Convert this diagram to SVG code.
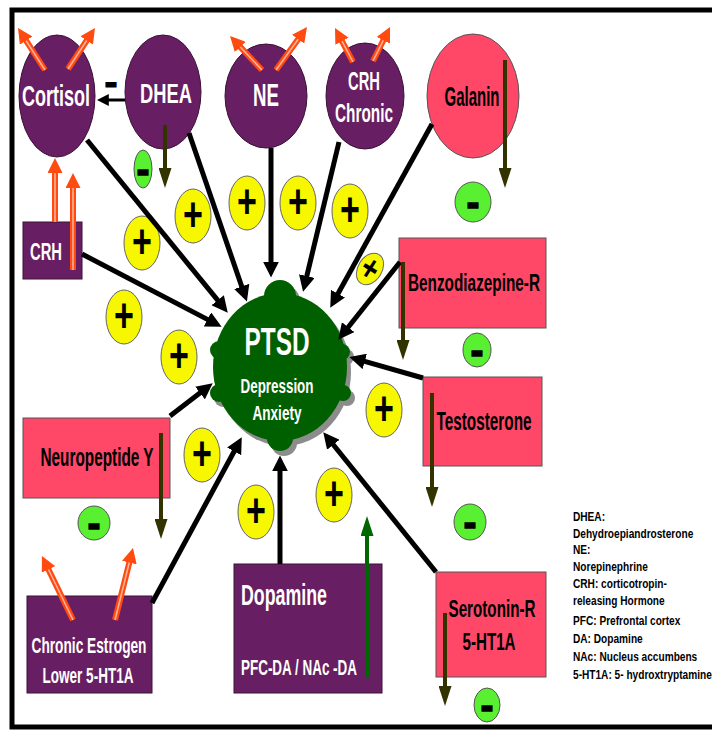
<svg xmlns="http://www.w3.org/2000/svg" width="712" height="730" viewBox="0 0 712 730">
<style>
.w{fill:#fff;font-family:"Liberation Sans Narrow","Liberation Sans",Arial,sans-serif;font-weight:bold;text-anchor:middle}
.k{fill:#000;font-family:"Liberation Sans Narrow","Liberation Sans",Arial,sans-serif;font-weight:bold;text-anchor:middle}
.pur{fill:#681E62;stroke:#3a1236;stroke-width:1}
.pink{fill:#FF4868;stroke:#555;stroke-width:1}
.yel{fill:#F7F700;stroke:#666;stroke-width:1}
.grn{fill:#5AF032;stroke:#555;stroke-width:1}
.plus{font-family:"Liberation Sans",Arial,sans-serif;font-weight:bold;font-size:34px;text-anchor:middle;fill:#000}
.minus{font-family:"Liberation Sans",Arial,sans-serif;font-weight:bold;font-size:26px;text-anchor:middle;fill:#000;stroke:#000;stroke-width:0.8}
.blk{stroke:#000;stroke-width:5;fill:none;marker-end:url(#ah)}
.olv{stroke:#333300;stroke-width:4;fill:none;marker-end:url(#oh)}
.org{stroke:#FF4A10;stroke-width:6;fill:none;marker-end:url(#rh)}
.orgi{stroke:#FFB09A;stroke-width:1.6;fill:none}
.leg{font-family:"Liberation Sans Narrow","Liberation Sans",Arial,sans-serif;font-size:13.5px;font-weight:bold;fill:#000}
</style>
<defs>
<marker id="ah" viewBox="0 0 10 10" refX="4" refY="5" markerWidth="16" markerHeight="16" markerUnits="userSpaceOnUse" orient="auto"><path d="M0,0L10,5L0,10z" fill="#000"/></marker>
<marker id="ahs" viewBox="0 0 10 10" refX="4" refY="5" markerWidth="12" markerHeight="12" markerUnits="userSpaceOnUse" orient="auto"><path d="M0,0L10,5L0,10z" fill="#000"/></marker>
<marker id="oh" viewBox="0 0 20 13" refX="6" refY="6.5" markerWidth="20" markerHeight="13" markerUnits="userSpaceOnUse" orient="auto"><path d="M0,0L20,6.5L0,13z" fill="#333300"/></marker>
<marker id="gh" viewBox="0 0 20 13" refX="6" refY="6.5" markerWidth="20" markerHeight="13" markerUnits="userSpaceOnUse" orient="auto"><path d="M0,0L20,6.5L0,13z" fill="#006600"/></marker>
<marker id="rh" viewBox="0 0 10 10" refX="4" refY="5" markerWidth="15" markerHeight="15" markerUnits="userSpaceOnUse" orient="auto"><path d="M0,0L10,5L0,10z" fill="#FF4A10"/></marker>
</defs>

<rect x="0" y="0" width="712" height="730" fill="#fff"/>
<path id="frame" d="M712,10H12V727H712" fill="none" stroke="#000" stroke-width="5"/>

<g id="ptsd">
<g fill="#8C8C8C" transform="translate(4,5)">
<ellipse cx="280" cy="367" rx="67" ry="74"/><circle cx="280" cy="296" r="16"/><circle cx="280" cy="438" r="13"/>
<circle cx="219" cy="350" r="9"/><circle cx="219" cy="393" r="9"/><circle cx="342" cy="352" r="8"/><circle cx="343" cy="393" r="8"/>
</g>
<g fill="#006000">
<ellipse cx="280" cy="367" rx="67" ry="74"/><circle cx="280" cy="296" r="16"/><circle cx="280" cy="438" r="13"/>
<circle cx="219" cy="350" r="9"/><circle cx="219" cy="393" r="9"/><circle cx="342" cy="352" r="8"/><circle cx="343" cy="393" r="8"/>
</g>
<text class="w" x="277" y="355" font-size="39" textLength="65" lengthAdjust="spacingAndGlyphs">PTSD</text>
<text class="w" x="277" y="393" font-size="20" textLength="73" lengthAdjust="spacingAndGlyphs">Depression</text>
<text class="w" x="277" y="420" font-size="20" textLength="49" lengthAdjust="spacingAndGlyphs">Anxiety</text>
</g>

<g id="cortisol"><ellipse class="pur" cx="57" cy="96" rx="38" ry="61"/>
<text class="w" x="56" y="106" font-size="29" textLength="68" lengthAdjust="spacingAndGlyphs">Cortisol</text></g>
<g id="dhea"><ellipse class="pur" cx="163" cy="92" rx="38" ry="57"/>
<text class="w" x="166" y="103" font-size="28" textLength="52" lengthAdjust="spacingAndGlyphs">DHEA</text></g>
<g id="ne"><ellipse class="pur" cx="266" cy="96" rx="41" ry="52"/>
<text class="w" x="266" y="106" font-size="31" textLength="26" lengthAdjust="spacingAndGlyphs">NE</text></g>
<g id="crh-chronic"><ellipse class="pur" cx="365" cy="96" rx="39" ry="53"/>
<text class="w" x="364" y="90" font-size="25" textLength="32" lengthAdjust="spacingAndGlyphs">CRH</text>
<text class="w" x="364" y="122" font-size="25" textLength="58" lengthAdjust="spacingAndGlyphs">Chronic</text></g>
<g id="galanin"><ellipse class="pink" cx="473" cy="96" rx="46" ry="62"/>
<text class="k" x="472" y="106" font-size="27" textLength="55" lengthAdjust="spacingAndGlyphs">Galanin</text></g>
<g id="crh"><rect class="pur" x="23" y="222" width="59" height="57"/>
<text class="w" x="46" y="260" font-size="24" textLength="32" lengthAdjust="spacingAndGlyphs">CRH</text></g>
<g id="benzodiazepine"><rect class="pink" x="399" y="238" width="147" height="90"/>
<text class="k" x="474" y="291" font-size="23" textLength="132" lengthAdjust="spacingAndGlyphs">Benzodiazepine-R</text></g>
<g id="testosterone"><rect class="pink" x="423" y="377" width="119" height="89"/>
<text class="k" x="484" y="430" font-size="25" textLength="95" lengthAdjust="spacingAndGlyphs">Testosterone</text></g>
<g id="neuropeptide"><rect class="pink" x="23" y="418" width="147" height="80"/>
<text class="k" x="97" y="466" font-size="25" textLength="113" lengthAdjust="spacingAndGlyphs">Neuropeptide Y</text></g>
<g id="serotonin"><rect class="pink" x="436" y="572" width="110" height="105"/>
<text class="k" x="492" y="617" font-size="24" textLength="87" lengthAdjust="spacingAndGlyphs">Serotonin-R</text>
<text class="k" x="489" y="650" font-size="24" textLength="53" lengthAdjust="spacingAndGlyphs">5-HT1A</text></g>
<g id="estrogen"><rect class="pur" x="27" y="596" width="125" height="97"/>
<text class="w" x="89" y="653" font-size="22" textLength="115" lengthAdjust="spacingAndGlyphs">Chronic Estrogen</text>
<text class="w" x="88" y="683" font-size="22" textLength="91" lengthAdjust="spacingAndGlyphs">Lower 5-HT1A</text></g>
<g id="dopamine"><rect class="pur" x="234" y="564" width="148" height="129"/>
<text class="w" x="241" y="605" font-size="30" textLength="86" lengthAdjust="spacingAndGlyphs" style="text-anchor:start">Dopamine</text>
<text class="w" x="241" y="675" font-size="22" textLength="116" lengthAdjust="spacingAndGlyphs" style="text-anchor:start">PFC-DA / NAc -DA</text></g>

<g id="plus-signs">
<g transform="translate(142,243)"><ellipse class="yel" rx="18" ry="27"/><text class="plus" transform="scale(1,1.4)" y="11">+</text></g>
<g transform="translate(193,216)"><ellipse class="yel" rx="18" ry="27"/><text class="plus" transform="scale(1,1.4)" y="11">+</text></g>
<g transform="translate(247,203)"><ellipse class="yel" rx="18" ry="27"/><text class="plus" transform="scale(1,1.4)" y="11">+</text></g>
<g transform="translate(298,203)"><ellipse class="yel" rx="18" ry="27"/><text class="plus" transform="scale(1,1.4)" y="11">+</text></g>
<g transform="translate(350,211)"><ellipse class="yel" rx="18" ry="27"/><text class="plus" transform="scale(1,1.4)" y="11">+</text></g>
<g transform="translate(124,317)"><ellipse class="yel" rx="18" ry="27"/><text class="plus" transform="scale(1,1.4)" y="11">+</text></g>
<g transform="translate(179,357)"><ellipse class="yel" rx="18" ry="27"/><text class="plus" transform="scale(1,1.4)" y="11">+</text></g>
<g transform="translate(202,455)"><ellipse class="yel" rx="18" ry="27"/><text class="plus" transform="scale(1,1.4)" y="11">+</text></g>
<g transform="translate(256,512)"><ellipse class="yel" rx="18" ry="27"/><text class="plus" transform="scale(1,1.4)" y="11">+</text></g>
<g transform="translate(334,495)"><ellipse class="yel" rx="18" ry="27"/><text class="plus" transform="scale(1,1.4)" y="11">+</text></g>
<g transform="translate(384,410)"><ellipse class="yel" rx="18" ry="27"/><text class="plus" transform="scale(1,1.4)" y="11">+</text></g>
<g transform="translate(370,269) rotate(32)"><ellipse class="yel" rx="12" ry="17"/><text class="plus" style="font-size:28px" transform="scale(1,1.3)" y="9">+</text></g>
</g>

<g id="minus-signs">
<g transform="translate(143,169)"><ellipse class="grn" rx="9" ry="19"/><text class="minus" transform="translate(0,4) scale(1.5,1.6)" y="7">-</text></g>
<g transform="translate(473,202)"><ellipse class="grn" rx="18" ry="20"/><text class="minus" transform="translate(0,4) scale(1.5,1.6)" y="7">-</text></g>
<g transform="translate(477,350)"><ellipse class="grn" rx="14" ry="17"/><text class="minus" transform="translate(0,4) scale(1.5,1.6)" y="7">-</text></g>
<g transform="translate(470,522)"><ellipse class="grn" rx="16" ry="18"/><text class="minus" transform="translate(0,4) scale(1.5,1.6)" y="7">-</text></g>
<g transform="translate(94,523)"><ellipse class="grn" rx="16" ry="17"/><text class="minus" transform="translate(0,4) scale(1.5,1.6)" y="7">-</text></g>
<g transform="translate(487,705)"><ellipse class="grn" rx="13" ry="17"/><text class="minus" transform="translate(0,4) scale(1.5,1.6)" y="7">-</text></g>
<text class="minus" transform="translate(111,84) scale(1.5,1.4)" y="7">-</text>
</g>

<g id="connectors">
<path class="blk" d="M87,140L221.7,305.2"/>
<path class="blk" d="M189,133L243.8,292.5"/>
<path class="blk" d="M271,148L271,268"/>
<path class="blk" d="M339,142L305.3,282.3"/>
<path class="blk" d="M432,124L334.9,299.3"/>
<path class="blk" d="M400,262L344.2,332.2"/>
<path class="blk" d="M423,378L358.6,359.7"/>
<path class="blk" d="M436,572L329.3,439.8"/>
<path class="blk" d="M280,564L280,465"/>
<path class="blk" d="M152,603L237.2,445.8"/>
<path class="blk" d="M170,416L205.1,389.1"/>
<path class="blk" d="M82,254L213.1,322.4"/>
<path d="M125,100L104,100" stroke="#000" stroke-width="3" fill="none" marker-end="url(#ahs)"/>

<path class="olv" d="M505,60V174"/>
<path class="olv" d="M165,125V174"/>
<path class="olv" d="M403,262V346"/>
<path class="olv" d="M432,393V493"/>
<path class="olv" d="M445,613V692"/>
<path class="olv" d="M161,433V525"/>
<path d="M367,677V530" stroke="#006600" stroke-width="4" fill="none" marker-end="url(#gh)"/>

<path class="org" d="M45,70L22.9,35.6"/><path class="orgi" d="M45,70L26.1,40.7"/>
<path class="org" d="M68,69L90,35.5"/><path class="orgi" d="M68,69L86.7,40.5"/>
<path class="org" d="M262,70L236.2,42.6"/><path class="orgi" d="M262,70L240.3,47"/>
<path class="org" d="M276,70L301.7,34.3"/><path class="orgi" d="M276,70L298.2,39.2"/>
<path class="org" d="M353,62L339.2,35.9"/><path class="orgi" d="M353,62L342,41.2"/>
<path class="org" d="M373,61L386,35"/><path class="orgi" d="M373,61L383.3,40.4"/>
<path class="org" d="M55,222V167"/><path class="orgi" d="M55,222V173"/>
<path class="org" d="M73,270V182"/><path class="orgi" d="M73,270V188"/>
<path class="org" d="M73,620L45.9,564.1"/><path class="orgi" d="M73,620L48.5,569.5"/>
<path class="org" d="M115,620L130.8,556.7"/><path class="orgi" d="M115,620L129.3,562.5"/>
</g>

<g id="legend" transform="translate(573,0) scale(0.75,1)">
<text class="leg" x="0" y="521">DHEA:</text>
<text class="leg" x="0" y="538">Dehydroepiandrosterone</text>
<text class="leg" x="0" y="554">NE:</text>
<text class="leg" x="0" y="571">Norepinephrine</text>
<text class="leg" x="0" y="588">CRH: corticotropin-</text>
<text class="leg" x="0" y="605">releasing Hormone</text>
<text class="leg" x="0" y="625">PFC: Prefrontal cortex</text>
<text class="leg" x="0" y="643">DA: Dopamine</text>
<text class="leg" x="0" y="661">NAc: Nucleus accumbens</text>
<text class="leg" x="0" y="679">5-HT1A: 5- hydroxtryptamine</text>
</g>
</svg>
